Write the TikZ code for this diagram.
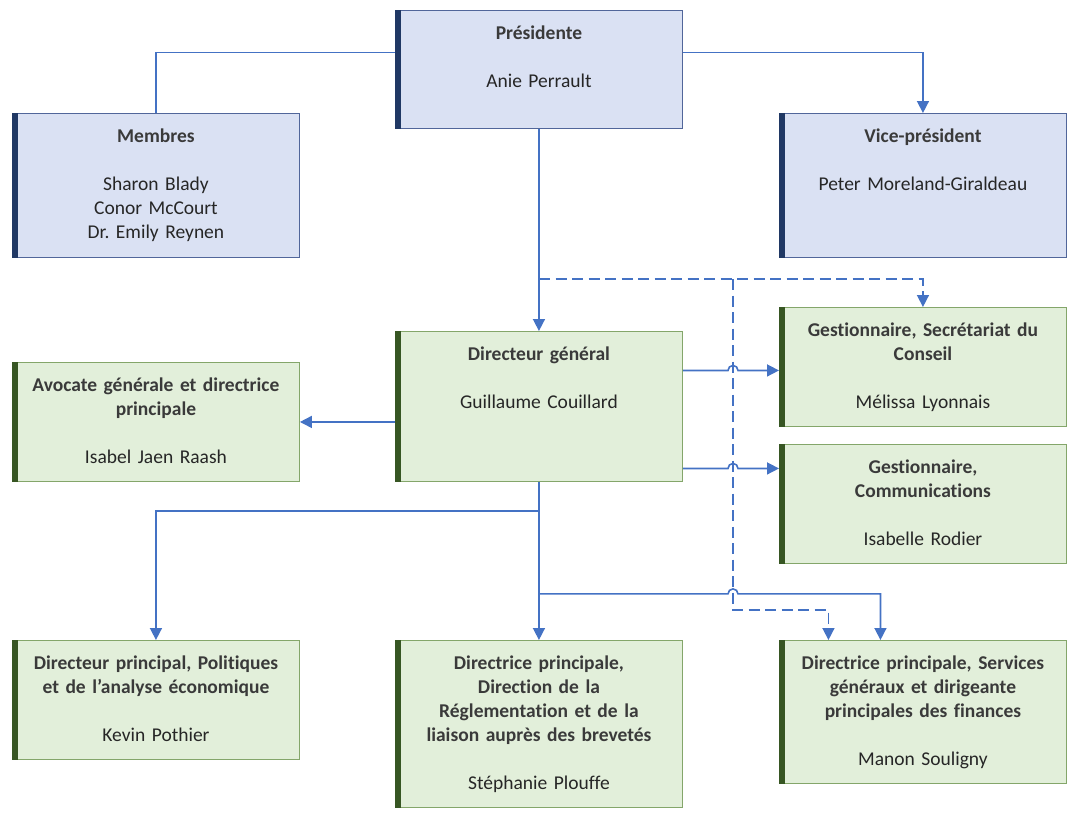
\documentclass[tikz,border=0pt]{standalone}
\usepackage{fontspec}
\setmainfont{Carlito}[Ligatures=NoCommon]
\usetikzlibrary{positioning,arrows.meta}
\definecolor{bluefill}{HTML}{DAE1F3}
\definecolor{blueline}{HTML}{51669A}
\definecolor{navybar}{HTML}{203864}
\definecolor{greenfill}{HTML}{E2EFDA}
\definecolor{greenline}{HTML}{84A66A}
\definecolor{greenbar}{HTML}{375623}
\definecolor{linkblue}{HTML}{4472C4}
\definecolor{titletext}{HTML}{3A3A3A}
\definecolor{nametext}{HTML}{262626}
\newcommand{\ttl}[1]{{\bfseries\color{titletext}#1}}
\frenchspacing

\begin{document}
\begin{tikzpicture}[x=1pt,y=-1pt,
    bluebox/.style={draw=blueline, fill=bluefill, line width=0.9pt, minimum width=287pt, inner sep=0pt, anchor=north west},
    greenbox/.style={draw=greenline, fill=greenfill, line width=0.9pt, minimum width=287pt, inner sep=0pt, anchor=north west},
    txt/.style={text width=275pt, align=center, inner sep=0pt, anchor=base, text=nametext, font=\fontsize{19.5}{24}\selectfont},
    conn/.style={draw=linkblue, line width=1.6pt},
    dashlink/.style={conn, dash pattern=on 11pt off 5.5pt},
    tip/.style={-{Triangle[length=12pt,width=12pt]}}]
    \useasboundingbox (0,0) rectangle (1077,819);

    % boxes
    \node[bluebox, minimum height=118pt] (pres) at (395,10) {};
    \node[bluebox, minimum height=144pt] (memb) at (12,113) {};
    \node[bluebox, minimum height=144pt] (vice) at (779,113) {};
    \node[greenbox, minimum height=150pt] (dg) at (395,331) {};
    \node[greenbox, minimum height=119pt] (avoc) at (12,362) {};
    \node[greenbox, minimum height=119pt] (secr) at (779,307) {};
    \node[greenbox, minimum height=119pt] (comm) at (779,444) {};
    \node[greenbox, minimum height=119pt] (polit) at (12,640) {};
    \node[greenbox, minimum height=167pt] (regl) at (395,640) {};
    \node[greenbox, minimum height=143pt] (serv) at (779,640) {};

    \foreach \b in {pres,memb,vice}
        \fill[navybar] (\b.north west) rectangle ([xshift=6pt]\b.south west);
    \foreach \b in {dg,avoc,secr,comm,polit,regl,serv}
        \fill[greenbar] (\b.north west) rectangle ([xshift=6pt]\b.south west);

    % texts
    \node[txt] (presT) at ([yshift=-29pt]pres.north) {\ttl{Présidente}\\[24pt]Anie Perrault};
    \node[txt] (membT) at ([yshift=-29pt]memb.north) {\ttl{Membres}\\[24pt]Sharon Blady\\Conor McCourt\\Dr. Emily Reynen};
    \node[txt] (viceT) at ([yshift=-29pt]vice.north) {\ttl{Vice-président}\\[24pt]Peter Moreland-Giraldeau};
    \node[txt] (dgT) at ([yshift=-29pt]dg.north) {\ttl{Directeur général}\\[24pt]Guillaume Couillard};
    \node[txt] (avocT) at ([yshift=-29pt]avoc.north) {\ttl{Avocate générale et directrice}\\\ttl{principale}\\[24pt]Isabel Jaen Raash};
    \node[txt] (secrT) at ([yshift=-29pt]secr.north) {\ttl{Gestionnaire, Secrétariat du}\\\ttl{Conseil}\\[24pt]Mélissa Lyonnais};
    \node[txt] (commT) at ([yshift=-29pt]comm.north) {\ttl{Gestionnaire,}\\\ttl{Communications}\\[24pt]Isabelle Rodier};
    \node[txt] (politT) at ([yshift=-29pt]polit.north) {\ttl{Directeur principal, Politiques}\\\ttl{et de l\symbol{"27}analyse économique}\\[24pt]Kevin Pothier};
    \node[txt] (reglT) at ([yshift=-29pt]regl.north) {\ttl{Directrice principale,}\\\ttl{Direction de la}\\\ttl{Réglementation et de la}\\\ttl{liaison auprès des brevetés}\\[24pt]Stéphanie Plouffe};
    \node[txt] (servT) at ([yshift=-29pt]serv.north) {\ttl{Directrice principale, Services}\\\ttl{généraux et dirigeante}\\\ttl{principales des finances}\\[24pt]Manon Souligny};

    % links
    \coordinate (dsplit) at (539,279);
    \coordinate (bridge) at (733,279);
    \coordinate (dgr1) at ([yshift=36pt]dg.east);
    \coordinate (dgr2) at ([yshift=-62pt]dg.east);
    \coordinate (dgb) at ([yshift=-112pt]dg.south);
    \coordinate (hop1) at (dgr1 -| bridge);
    \coordinate (hop2) at (dgr2 -| bridge);
    \coordinate (hop3) at (dgb -| bridge);

    \draw[dashlink, tip] (dsplit) -| (secr.north);
    \draw[dashlink, tip] (bridge) -- ++(0,331) -| ([xshift=-94.5pt]serv.north);

    \draw[conn] ([yshift=17pt]pres.west) -| (memb.north);
    \draw[conn, tip] ([yshift=17pt]pres.east) -| (vice.north);
    \draw[conn, tip] (pres.south) -- (dg.north);
    \draw[conn, tip] (dg.west |- avoc.east) -- (avoc.east);
    \draw[conn, tip] (dgr1) -- ([xshift=-5pt]hop1) arc[start angle=180, end angle=0, radius=5pt] -- (dgr1 -| secr.west);
    \draw[conn, tip] (dgr2) -- ([xshift=-5pt]hop2) arc[start angle=180, end angle=0, radius=5pt] -- (dgr2 -| comm.west);
    \draw[conn, tip] (dg.south) -- (regl.north);
    \draw[conn, tip] (dg.south) -- ++(0,29) -| (polit.north);
    \draw[conn, tip] (dgb) -- ([xshift=-5pt]hop3) arc[start angle=180, end angle=0, radius=5pt] -| ([xshift=-42.5pt]serv.north);
\end{tikzpicture}
\end{document}
